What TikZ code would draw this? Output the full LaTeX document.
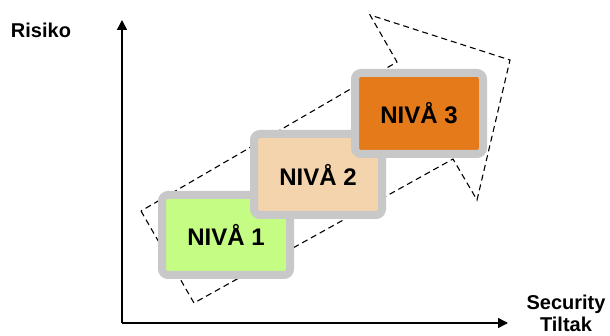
\documentclass[tikz,border=0pt]{standalone}
\usepackage{fontspec}
\setmainfont{Liberation Sans}
\usetikzlibrary{arrows.meta}
\definecolor{boxgray}{RGB}{200,200,200}
\definecolor{lvlone}{RGB}{196,252,132}
\definecolor{lvltwo}{RGB}{244,212,172}
\definecolor{lvlthree}{RGB}{228,122,26}
\tikzset{
  levelbox/.style={draw=boxgray, line width=8pt, rounded corners=6pt,
    minimum width=128pt, minimum height=81pt, inner sep=0pt,
    font=\fontsize{24}{28}\selectfont\bfseries, text=black},
  axis/.style={line width=1.5pt, -{Triangle[length=10pt,width=10pt]}},
  dasharrow/.style={draw=black, line width=1.1pt, dash pattern=on 6pt off 4pt},
  axislabel/.style={font=\fontsize{20}{21}\selectfont\bfseries, align=center, inner sep=0pt}
}
\begin{document}
\begin{tikzpicture}[x=1pt,y=-1pt]
\useasboundingbox (0,0) rectangle (610,336);
% dashed big arrow (behind boxes)
\draw[dasharrow] (141,211) -- (194,303) -- (453,159) -- (477,200) -- (510,60) -- (370,15) -- (397,62) -- cycle;
% axes
\coordinate (origin) at (122,323);
\coordinate (ytip) at (122,20);
\coordinate (xtip) at (508,323);
\draw[axis] (origin) -- (ytip);
\draw[axis] (origin) -- (xtip);
% labels
\node[axislabel] (risiko) at (41,30) {Risiko};
\node[axislabel, anchor=base, text depth=0pt] (security) at (566,331) {Security\\Tiltak};
% level boxes
\node[levelbox, fill=lvlone, minimum height=80pt] (n1) at (226,235) {NIVÅ 1};
\node[levelbox, fill=lvltwo] (n2) at (318,174.5) {NIVÅ 2};
\node[levelbox, fill=lvlthree] (n3) at (419,113.5) {NIVÅ 3};
\end{tikzpicture}
\end{document}
